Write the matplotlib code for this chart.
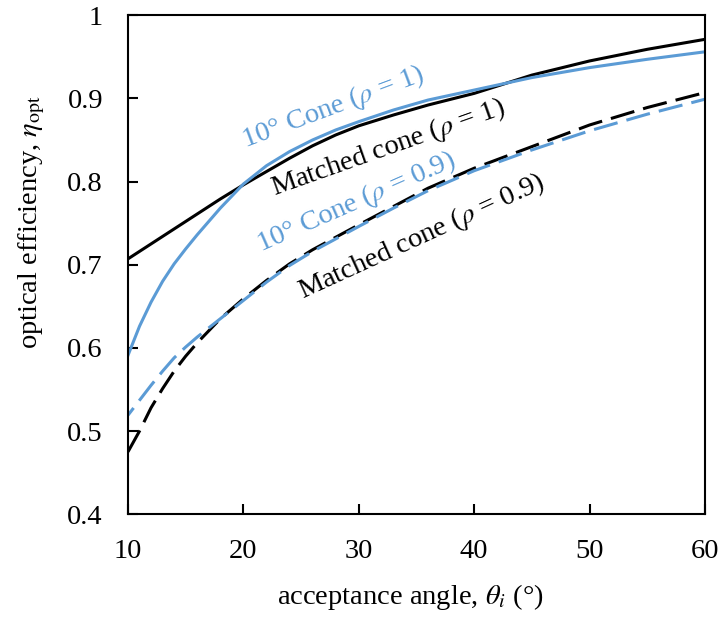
import numpy as np
import matplotlib.pyplot as plt

plt.rcParams['font.family'] = ['Liberation Serif', 'DejaVu Serif']
plt.rcParams['mathtext.fontset'] = 'stix'

# acceptance angle (deg) and optical efficiency for each concentrator
theta = [10, 11, 12, 13, 14, 15, 16, 18, 20, 22, 24, 26, 28, 30, 33, 36, 40, 45, 50, 55, 60]
matched_rho1 = [0.707, 0.716, 0.725, 0.734, 0.743, 0.752, 0.761, 0.779, 0.796, 0.812, 0.828,
                0.843, 0.856, 0.867, 0.880, 0.892, 0.906, 0.928, 0.945, 0.959, 0.971]
cone_rho1 = [0.591, 0.626, 0.655, 0.680, 0.701, 0.719, 0.736, 0.768, 0.797, 0.819, 0.836,
             0.850, 0.862, 0.872, 0.886, 0.898, 0.910, 0.925, 0.937, 0.947, 0.956]
matched_rho09 = [0.475, 0.500, 0.528, 0.551, 0.572, 0.590, 0.606, 0.635, 0.659, 0.681, 0.701,
                 0.718, 0.733, 0.748, 0.770, 0.792, 0.816, 0.842, 0.868, 0.889, 0.907]
cone_rho09 = [0.519, 0.537, 0.555, 0.572, 0.588, 0.601, 0.613, 0.635, 0.657, 0.679, 0.699,
              0.716, 0.731, 0.746, 0.768, 0.789, 0.813, 0.838, 0.861, 0.881, 0.899]

blue = '#5B9BD5'
fs = 20.5

fig = plt.figure(figsize=(7.19, 6.21), dpi=100)
ax = fig.add_axes([0.178, 0.172, 0.8025, 0.8035])

ax.plot(theta, matched_rho1, color='black', lw=2.2)
ax.plot(theta, cone_rho1, color=blue, lw=2.2)
ax.plot(theta, matched_rho09, color='black', lw=2.2, linestyle=(0, (8, 3)))
ax.plot(theta, cone_rho09, color=blue, lw=2.2, linestyle=(5, (8, 3)))

ax.set_xlim(10, 60)
ax.set_ylim(0.4, 1.0)
ax.set_xticks(np.arange(10, 61, 10))
ax.set_yticks([0.4, 0.5, 0.6, 0.7, 0.8, 0.9, 1.0])
ax.set_yticklabels(['0.4', '0.5', '0.6', '0.7', '0.8', '0.9', '1'])
ax.tick_params(direction='in', length=7, width=1.5, labelsize=fs, pad=18)
for s in ax.spines.values():
    s.set_linewidth(1.5)

ax.set_xlabel(r'acceptance angle, $\theta_i$ (°)', fontsize=fs)
ax.set_ylabel(r'optical efficiency, $\eta_{\rm opt}$', fontsize=fs)
ax.xaxis.set_label_coords(0.49, -0.135)
ax.yaxis.set_label_coords(-0.14, 0.585)

# curve labels
lab = dict(fontsize=fs, ha='center', va='center', rotation_mode='anchor')
ax.text(27.8, 0.889, r'10° Cone ($\rho$ = 1)', color=blue, rotation=20.5, **lab)
ax.text(32.5, 0.841, r'Matched cone ($\rho$ = 1)', color='black', rotation=19.5, **lab)
ax.text(29.8, 0.775, r'10° Cone ($\rho$ = 0.9)', color=blue, rotation=23.7, **lab)
ax.text(35.4, 0.734, r'Matched cone ($\rho$ = 0.9)', color='black', rotation=24.6, **lab)

fig.savefig('out.png', dpi=100)
